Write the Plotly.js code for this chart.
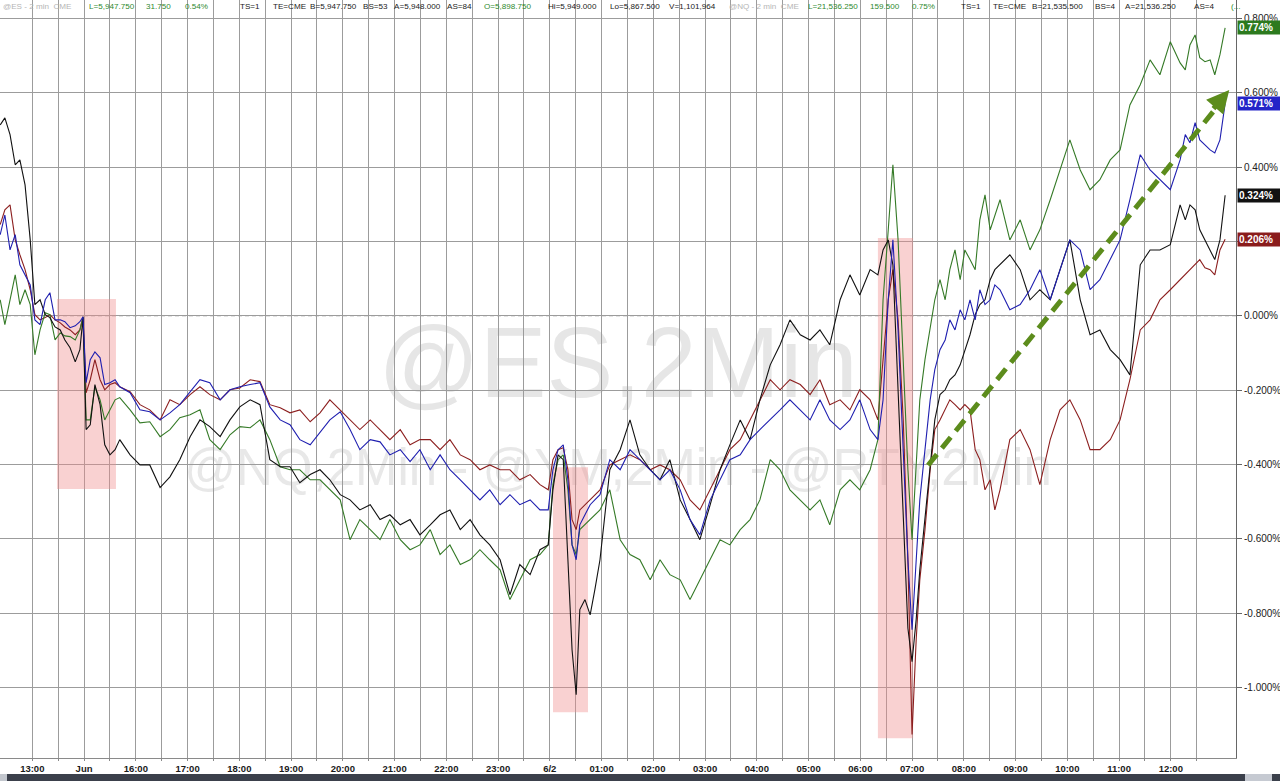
<!DOCTYPE html>
<html>
<head>
<meta charset="utf-8">
<script src="https://cdn.plot.ly/plotly-3.0.1.min.js"></script>
<style>
  html, body { margin: 0; padding: 0; background: #ffffff; }
  #chart { width: 1280px; height: 781px; }
</style>
</head>
<body>
<div id="chart"></div>
<script>
// ---- time axis: session hours (0 = "13:00" tick, gapless session index) ----
const sessionHour = [
  -0.62,-0.53,-0.43,-0.33,-0.24,-0.14,-0.04,0.05,0.15,0.25,0.34,0.44,0.54,0.63,0.73,0.83,0.92,0.98,1.04,1.12,1.21,1.31,1.40,1.50,1.60,1.69,
  1.89,2.08,2.27,2.47,2.66,2.85,3.05,3.24,3.43,3.63,3.82,4.01,4.21,4.40,4.59,4.79,4.98,5.17,5.37,5.56,5.75,5.95,6.14,6.33,6.53,6.72,6.91,7.11,7.30,7.49,7.69,7.88,8.07,8.27,8.46,8.65,8.84,9.04,9.23,9.42,9.62,9.81,
  9.97,10.06,10.16,10.26,10.35,10.43,10.51,10.58,10.68,10.78,10.87,10.97,
  11.16,11.36,11.55,11.74,11.94,12.13,12.32,12.52,12.71,12.90,13.10,13.29,13.48,13.68,13.87,14.06,14.26,14.45,14.64,14.84,15.03,15.22,15.41,15.61,15.80,15.99,16.19,16.34,
  16.44,16.54,16.63,16.73,16.83,16.92,17.00,17.08,17.15,17.25,17.35,17.44,17.54,17.64,17.73,17.83,17.93,18.02,18.12,18.22,18.31,18.41,18.51,18.60,18.70,
  18.89,19.09,19.28,19.47,19.67,19.86,20.05,20.25,20.44,20.63,20.83,21.02,21.21,21.41,21.60,21.79,21.99,22.18,
  22.28,22.37,22.47,22.56,22.66,22.76,22.85,22.95,23.05
];

// @ES (blue), % change
const esPct = [
  0.218,0.271,0.177,0.218,0.137,0.110,0.083,-0.011,-0.024,0.043,0.062,-0.011,-0.011,-0.016,-0.032,-0.027,-0.016,-0.003,-0.180,-0.118,-0.097,-0.113,-0.185,-0.180,-0.172,-0.191,
  -0.207,-0.253,-0.258,-0.280,-0.261,-0.239,-0.204,-0.172,-0.180,-0.226,-0.199,-0.191,-0.185,-0.180,-0.245,-0.280,-0.293,-0.333,-0.347,-0.315,-0.280,-0.258,-0.306,-0.360,-0.333,-0.339,-0.374,-0.360,-0.392,-0.360,-0.414,-0.374,-0.414,-0.441,-0.468,-0.495,-0.468,-0.508,-0.481,-0.508,-0.495,-0.522,
  -0.522,-0.414,-0.360,-0.347,-0.441,-0.616,-0.656,-0.562,-0.535,-0.508,-0.495,-0.481,
  -0.387,-0.414,-0.360,-0.387,-0.414,-0.441,-0.414,-0.468,-0.548,-0.589,-0.495,-0.441,-0.387,-0.374,-0.333,-0.306,-0.280,-0.253,-0.226,-0.253,-0.280,-0.226,-0.280,-0.306,-0.280,-0.226,-0.306,-0.333,
  -0.226,0.043,0.204,-0.038,-0.360,-0.656,-0.844,-0.656,-0.495,-0.360,-0.226,-0.145,-0.091,-0.065,-0.011,-0.038,0.016,-0.011,0.043,-0.011,0.070,0.030,0.043,0.083,0.070,
  0.016,0.030,0.070,0.124,0.043,0.124,0.204,0.177,0.070,0.097,0.151,0.204,0.312,0.433,0.392,0.366,0.339,0.419,
  0.487,0.465,0.519,0.473,0.460,0.446,0.438,0.473,0.571
];

// @NQ (green), % change
const nqPct = [
  0.043,-0.024,0.043,0.110,0.030,0.070,0.030,-0.105,-0.038,0.008,0.003,-0.065,-0.046,-0.054,-0.056,-0.065,-0.038,-0.003,-0.280,-0.280,-0.191,-0.226,-0.280,-0.253,-0.226,-0.220,
  -0.253,-0.288,-0.285,-0.325,-0.306,-0.274,-0.266,-0.253,-0.333,-0.360,-0.320,-0.298,-0.301,-0.280,-0.333,-0.406,-0.414,-0.414,-0.441,-0.441,-0.468,-0.495,-0.602,-0.548,-0.575,-0.602,-0.548,-0.602,-0.629,-0.616,-0.575,-0.642,-0.616,-0.669,-0.656,-0.629,-0.656,-0.683,-0.763,-0.710,-0.656,-0.642,
  -0.616,-0.454,-0.387,-0.374,-0.468,-0.616,-0.642,-0.575,-0.562,-0.548,-0.535,-0.522,
  -0.468,-0.602,-0.642,-0.656,-0.710,-0.656,-0.696,-0.710,-0.763,-0.710,-0.656,-0.602,-0.616,-0.575,-0.548,-0.495,-0.387,-0.414,-0.468,-0.495,-0.522,-0.495,-0.562,-0.468,-0.441,-0.468,-0.414,-0.333,
  0.043,0.231,0.406,0.204,-0.118,-0.414,-0.602,-0.414,-0.226,-0.118,-0.038,0.043,0.097,0.043,0.124,0.177,0.097,0.177,0.151,0.124,0.258,0.325,0.231,0.271,0.312,
  0.204,0.258,0.177,0.231,0.312,0.392,0.473,0.392,0.339,0.366,0.419,0.446,0.567,0.621,0.688,0.648,0.737,0.680,
  0.661,0.728,0.755,0.694,0.683,0.688,0.648,0.702,0.774
];

// @YM (dark red), % change
const ymPct = [
  0.245,0.285,0.298,0.204,0.164,0.124,0.070,0.003,-0.011,-0.005,0.003,-0.011,-0.019,-0.030,-0.038,-0.051,-0.038,-0.003,-0.207,-0.172,-0.118,-0.172,-0.199,-0.185,-0.180,-0.191,
  -0.204,-0.239,-0.253,-0.280,-0.226,-0.239,-0.212,-0.191,-0.212,-0.226,-0.199,-0.194,-0.172,-0.177,-0.239,-0.247,-0.261,-0.253,-0.285,-0.261,-0.226,-0.253,-0.280,-0.306,-0.280,-0.306,-0.333,-0.306,-0.347,-0.333,-0.333,-0.360,-0.333,-0.374,-0.387,-0.414,-0.401,-0.414,-0.414,-0.441,-0.427,-0.454,
  -0.468,-0.387,-0.360,-0.355,-0.414,-0.548,-0.575,-0.522,-0.508,-0.495,-0.481,-0.468,
  -0.401,-0.387,-0.374,-0.387,-0.414,-0.401,-0.414,-0.441,-0.495,-0.522,-0.468,-0.414,-0.360,-0.333,-0.280,-0.226,-0.172,-0.199,-0.172,-0.185,-0.212,-0.172,-0.239,-0.226,-0.253,-0.199,-0.226,-0.280,
  -0.118,0.043,0.124,-0.011,-0.280,-0.656,-1.126,-0.871,-0.710,-0.575,-0.414,-0.306,-0.280,-0.253,-0.226,-0.239,-0.253,-0.239,-0.253,-0.360,-0.387,-0.468,-0.441,-0.522,-0.468,
  -0.333,-0.306,-0.360,-0.454,-0.333,-0.253,-0.226,-0.280,-0.360,-0.360,-0.333,-0.280,-0.172,-0.038,-0.011,0.043,0.070,0.097,
  0.110,0.124,0.137,0.151,0.129,0.124,0.110,0.177,0.206
];

// @RTY (black), % change
const rtyPct = [
  0.513,0.532,0.487,0.406,0.419,0.352,0.204,0.030,0.043,0.003,-0.005,-0.030,-0.038,-0.065,-0.086,-0.124,-0.091,-0.005,-0.306,-0.293,-0.185,-0.239,-0.347,-0.374,-0.360,-0.333,
  -0.374,-0.401,-0.401,-0.462,-0.433,-0.387,-0.325,-0.280,-0.298,-0.325,-0.280,-0.245,-0.226,-0.239,-0.387,-0.406,-0.406,-0.449,-0.427,-0.414,-0.441,-0.481,-0.495,-0.522,-0.508,-0.548,-0.535,-0.562,-0.548,-0.589,-0.562,-0.535,-0.522,-0.575,-0.548,-0.589,-0.616,-0.656,-0.750,-0.669,-0.696,-0.629,
  -0.616,-0.468,-0.374,-0.387,-0.656,-0.898,-1.019,-0.790,-0.763,-0.804,-0.737,-0.656,
  -0.414,-0.360,-0.280,-0.374,-0.414,-0.441,-0.387,-0.495,-0.548,-0.602,-0.508,-0.414,-0.347,-0.280,-0.333,-0.226,-0.132,-0.078,-0.011,-0.051,-0.065,-0.038,-0.078,0.043,0.110,0.056,0.124,0.110,
  0.177,0.204,0.137,-0.199,-0.495,-0.840,-0.930,-0.817,-0.683,-0.548,-0.414,-0.280,-0.212,-0.199,-0.172,-0.159,-0.132,-0.091,-0.051,0.003,0.030,0.043,0.097,0.124,0.137,
  0.164,0.124,0.043,0.070,0.043,0.124,0.204,0.043,-0.051,-0.038,-0.091,-0.118,-0.159,0.137,0.177,0.177,0.191,0.298,
  0.258,0.298,0.285,0.231,0.204,0.177,0.151,0.204,0.324
];

// ---- tick labels ----
const hourTicks = [0,1,2,3,4,5,6,7,8,9,10,11,12,13,14,15,16,17,18,19,20,21,22];
const hourLabels = ['13:00','Jun','16:00','17:00','18:00','19:00','20:00','21:00','22:00','23:00','6/2',
  '01:00','02:00','03:00','04:00','05:00','06:00','07:00','08:00','09:00','10:00','11:00','12:00'];
const pctTicks = [0.8,0.6,0.4,0.2,0,-0.2,-0.4,-0.6,-0.8,-1.0];
const pctLabels = ['0.800%','0.600%','0.400%','0.200%','0.000%','-0.200%','-0.400%','-0.600%','-0.800%','-1.000%'];

// ---- styling / layout ----
const COL = { es:'#1f1fb0', nq:'#357a27', ym:'#8c1f1f', rty:'#111111' };
const BADGE = { es:'#2424c8', nq:'#2c7a1e', ym:'#8a1c1c', rty:'#111111' };

const gridVals = hourTicks.flatMap(h => [h, h + 0.5]);
const gridText = hourTicks.flatMap((h, i) => [hourLabels[i], '']);

function line(y, color, name) {
  return { type:'scatter', mode:'lines', x: sessionHour, y: y, name: name,
           line:{ color: color, width: 1.1 }, hoverinfo:'skip' };
}
const traces = [
  line(ymPct, COL.ym, '@YM'),
  line(nqPct, COL.nq, '@NQ'),
  line(rtyPct, COL.rty, '@RTY'),
  line(esPct, COL.es, '@ES')
];

const PH = 758; // plot height in px
const py = p => (PH - p) / PH; // pixel row -> paper y
const PW = 1236;
const px = p => p / PW;

const shapes = [
  // watermark (below grid)
  { type:'rect', xref:'paper', yref:'paper', x0:0.2, x1:0.8, y0:py(395), y1:py(310), layer:'below',
    line:{width:0}, fillcolor:'rgba(0,0,0,0)',
    label:{ text:'@ES,2Min', font:{ family:'Arial', size:100, color:'#e6e6e6' }, textposition:'middle center' } },
  { type:'rect', xref:'paper', yref:'paper', x0:0.05, x1:0.95, y0:py(490), y1:py(435), layer:'below',
    line:{width:0}, fillcolor:'rgba(0,0,0,0)',
    label:{ text:'@NQ,2Min - @YM,2Min - @RTY,2Min', font:{ family:'Arial', size:51, color:'#e8e8e8' }, textposition:'middle center' } },
  // zero line dashed
  { type:'line', xref:'paper', yref:'y', x0:0, x1:1, y0:0, y1:0, layer:'between', line:{ color:'#ffffff', width:2 } },
  { type:'line', xref:'paper', yref:'y', x0:0, x1:1, y0:0, y1:0, layer:'between', line:{ color:'#9a9a9a', width:1, dash:'4px,3px' } },
  // highlighted regions
  { type:'rect', xref:'x', yref:'y', x0:0.477, x1:1.617, y0:-0.466, y1:0.045, layer:'between', line:{width:0}, fillcolor:'rgba(240,140,140,0.40)' },
  { type:'rect', xref:'x', yref:'y', x0:10.062, x1:10.738, y0:-1.066, y1:-0.407, layer:'between', line:{width:0}, fillcolor:'rgba(240,140,140,0.40)' },
  { type:'rect', xref:'x', yref:'y', x0:16.34, x1:17.02, y0:-1.136, y1:0.209, layer:'between', line:{width:0}, fillcolor:'rgba(240,140,140,0.40)' },
  // header band
  { type:'rect', xref:'paper', yref:'paper', x0:0, x1:1, y0:py(13), y1:1, layer:'between', line:{width:0}, fillcolor:'#ffffff' },
  // dashed trend arrow shaft
  { type:'line', xref:'x', yref:'y', x0:17.31, y0:-0.402, x1:22.86, y1:0.556, layer:'above',
    line:{ color:'#5c8c1c', width:5, dash:'14px,8px' } },
  // bottom scroll strip
  { type:'rect', xref:'paper', yref:'paper', x0:0, x1:px(7), y0:py(781), y1:py(774), line:{width:0}, fillcolor:'#c3c7ce' },
  { type:'rect', xref:'paper', yref:'paper', x0:px(7), x1:px(1245), y0:py(781), y1:py(774), line:{width:0}, fillcolor:'#3b404b' },
  { type:'rect', xref:'paper', yref:'paper', x0:px(1245), x1:px(1272), y0:py(781), y1:py(774), line:{width:0}, fillcolor:'#c6cad2' },
  { type:'rect', xref:'paper', yref:'paper', x0:px(1272), x1:px(1282), y0:py(781), y1:py(774), line:{width:0}, fillcolor:'#3b404b' }
];

const GREEN = '#2f8a2f', GRAY = '#b5b5b5', BLK = '#222222';
const header = [
  ['@ES - 2 min&nbsp;&nbsp;CME', 2, GRAY], ['L=5,947.750', 88, GREEN], ['31.750', 145, GREEN], ['0.54%', 184, GREEN],
  ['TS=1', 239, BLK], ['TE=CME', 272, BLK], ['B=5,947.750', 309, BLK], ['BS=53', 362, BLK], ['A=5,948.000', 393, BLK],
  ['AS=84', 446, BLK], ['O=5,898.750', 483, GREEN], ['Hi=5,949.000', 547, BLK], ['Lo=5,867.500', 609, BLK],
  ['V=1,101,964', 668, BLK], ['@NQ - 2 min&nbsp;&nbsp;CME', 728, GRAY], ['L=21,536.250', 807, GREEN], ['159.500', 869, GREEN],
  ['0.75%', 911, GREEN], ['TS=1', 960, BLK], ['TE=CME', 992, BLK], ['B=21,535.500', 1031, BLK], ['BS=4', 1094, BLK],
  ['A=21,536.250', 1124, BLK], ['AS=4', 1193, BLK], ['(...', 1230, GREEN]
];
const annotations = header.map(([t, p, c]) => ({
  xref:'paper', yref:'paper', x: px(p), y: py(7), xanchor:'left', yanchor:'middle', showarrow:false,
  text: t, font:{ family:'Arial', size:8.1, color:c }, borderpad:0
}));

// value badges on right
[[nqPct, BADGE.nq], [esPct, BADGE.es], [rtyPct, BADGE.rty], [ymPct, BADGE.ym]].forEach(([arr, bg]) => {
  const v = arr[arr.length - 1];
  annotations.push({ xref:'paper', yref:'y', x:1, y:v, xanchor:'left', yanchor:'middle', xshift:1,
    showarrow:false, text: v.toFixed(3) + '%', bgcolor: bg, borderpad:1, width:40, align:'left',
    font:{ family:'Arial', size:10, color:'#ffffff', weight:'bold' } });
});

// arrow head
annotations.push({ xref:'x', yref:'y', axref:'x', ayref:'y', x:23.13, y:0.607, ax:22.80, ay:0.553,
  text:'', showarrow:true, arrowhead:2, arrowsize:0.9, arrowwidth:5, arrowcolor:'#5c8c1c', standoff:0 });

const layout = {
  width:1280, height:781,
  margin:{ l:0, r:44, t:0, b:23, pad:0, autoexpand:false },
  paper_bgcolor:'#ffffff', plot_bgcolor:'#ffffff',
  showlegend:false,
  xaxis:{
    range:[-0.624, 23.26], tickmode:'array', tickvals:gridVals, ticktext:gridText,
    showgrid:true, gridcolor:'#9c9c9c', gridwidth:1, zeroline:false,
    ticks:'outside', ticklen:2, tickcolor:'#8a8a8a',
    showline:true, linecolor:'#8a8a8a', linewidth:1,
    tickfont:{ family:'Arial', size:9.5, color:'#1a1a1a', weight:'bold' },
    fixedrange:true
  },
  yaxis:{
    side:'right', range:[-1.189, 0.849], tickmode:'array', tickvals:pctTicks, ticktext:pctLabels,
    showgrid:true, gridcolor:'#9c9c9c', gridwidth:1, zeroline:false,
    ticks:'outside', ticklen:5, tickcolor:'#666666',
    showline:true, linecolor:'#666666', linewidth:1,
    tickfont:{ family:'Arial', size:10, color:'#222222' },
    fixedrange:true
  },
  shapes: shapes,
  annotations: annotations
};

Plotly.newPlot('chart', traces, layout, { displayModeBar:false, staticPlot:true });
</script>
</body>
</html>
